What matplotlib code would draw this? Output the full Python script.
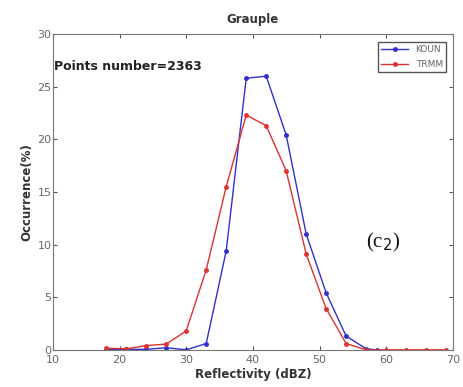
import matplotlib
matplotlib.use('Agg')
import matplotlib.pyplot as plt
import numpy as np

# reflectivity bins (dBZ)
koun_x = [18, 21, 24, 27, 30, 33, 36, 39, 42, 45, 48, 51, 54, 57, 58.6]
koun_y = [0.0, 0.05, 0.05, 0.2, 0.0, 0.6, 9.4, 25.8, 26.0, 20.4, 11.0, 5.4, 1.3, 0.1, 0.0]
trmm_x = [18, 21, 24, 27, 30, 33, 36, 39, 42, 45, 48, 51, 54, 57, 60, 63, 66, 69]
trmm_y = [0.15, 0.1, 0.4, 0.55, 1.8, 7.6, 15.5, 22.3, 21.3, 17.0, 9.1, 3.9, 0.6, 0.0, 0.0, 0.0, 0.0, 0.0]
xticks = [10, 20, 30, 40, 50, 60, 70]
yticks = [0, 5, 10, 15, 20, 25, 30]

fig = plt.figure(figsize=(4.64, 3.87), dpi=100)
ax = fig.add_axes([0.114, 0.096, 0.862, 0.816])

ax.plot(koun_x, koun_y, color='#3030d0', marker='.', markersize=5, lw=1, label='KOUN')
ax.plot(trmm_x, trmm_y, color='#e03030', marker='.', markersize=5, lw=1, label='TRMM')

ax.set_xlim(10, 70)
ax.set_ylim(0, 30)
ax.set_xticks(xticks)
ax.set_yticks(yticks)
ax.tick_params(direction='in', top=True, right=True, length=3, labelsize=8,
               colors='#555555', labelcolor='#666666')
ax.tick_params(axis='x', pad=4)
ax.tick_params(axis='y', pad=1)
for s in ax.spines.values():
    s.set_color('#777777')

ax.set_title('Grauple', fontsize=8.5, fontweight='bold', color='#333333', pad=8)
ax.set_xlabel('Reflectivity (dBZ)', fontsize=8.5, fontweight='bold', color='#333333', labelpad=2)
ax.set_ylabel('Occurrence(%)', fontsize=8.5, fontweight='bold', color='#333333', labelpad=3)

ax.text(10.1, 26.9, 'Points number=2363', fontsize=9, fontweight='bold', color='#222222', va='center')
ax.text(57.0, 10.2, r'(c$_2$)', fontsize=15, family='Liberation Serif', color='#111111', va='center')

leg = ax.legend(loc='upper right', fontsize=6.5, fancybox=False, handlelength=3,
                borderpad=0.4, labelspacing=0.6, framealpha=1, bbox_to_anchor=(0.995, 0.99))
leg.get_frame().set_edgecolor('#555555')
for t in leg.get_texts():
    t.set_color('#666666')

plt.savefig('out.png', dpi=100)
